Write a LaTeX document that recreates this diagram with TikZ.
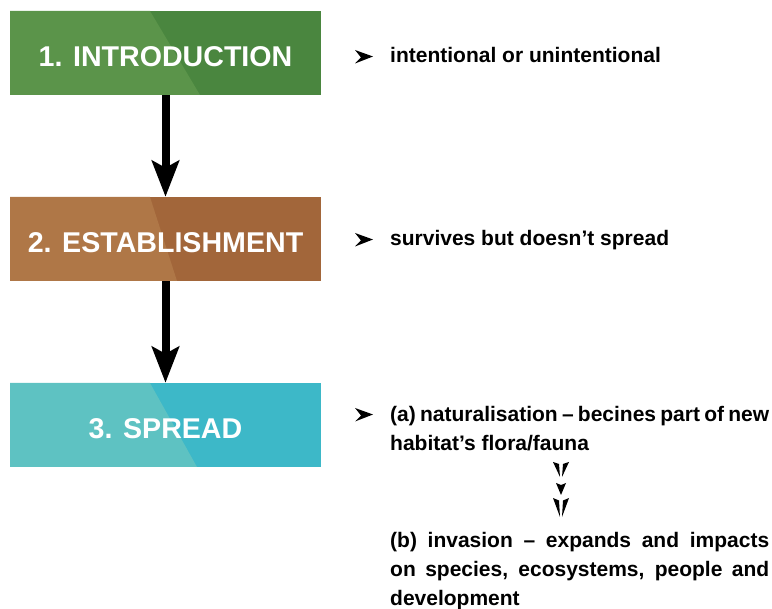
\documentclass[tikz,border=0pt]{standalone}
\usepackage{fontspec}
\setmainfont{Liberation Sans}
\usetikzlibrary{arrows.meta}
\definecolor{gdark}{HTML}{4A863F}
\definecolor{glight}{HTML}{5B944A}
\definecolor{bdark}{HTML}{A2663A}
\definecolor{blight}{HTML}{AF7747}
\definecolor{tdark}{HTML}{3DB8C8}
\definecolor{tlight}{HTML}{5EC2C2}
\tikzset{
  stagebox/.style n args={4}{draw=none, fill=#1, minimum width=311pt, minimum height=84pt,
    inner sep=0pt, text=white, font=\fontsize{28.6}{30}\selectfont\bfseries,
    text height=28pt, text depth=0pt,
    path picture={\fill[#2] (path picture bounding box.north west)
       -- ([xshift=#3]path picture bounding box.north west)
       -- ([xshift=#4]path picture bounding box.south west)
       -- (path picture bounding box.south west) -- cycle;}},
  bigarrow/.style={line width=8pt, -{Stealth[length=36pt,width=27pt,inset=7pt]}},
  sidetext/.style={anchor=base west, inner sep=0pt, font=\fontsize{21}{29}\selectfont\bfseries},
  bulletmark/.style={fill=black}
}
\begin{document}
\begin{tikzpicture}[x=1pt,y=-1pt]
\useasboundingbox (0,0) rectangle (772,609);
\node[stagebox={gdark}{glight}{140pt}{190pt}] (box1) at (165.5,53) {1. INTRODUCTION};
\node[stagebox={bdark}{blight}{140pt}{167pt}] (box2) at (165.5,239) {2. ESTABLISHMENT};
\node[stagebox={tdark}{tlight}{140pt}{187pt}] (box3) at (165.5,425) {3. SPREAD};
\draw[bigarrow] (box1.south) -- (box2.north);
\draw[bigarrow] (box2.south) -- (box3.north);
% bullets
\fill[bulletmark] (355,50) -- (373,56.5) -- (355,63.5) -- (361,57.5) -- cycle;
\fill[bulletmark] (355,233) -- (373,239.5) -- (355,246.5) -- (361,240.5) -- cycle;
\fill[bulletmark] (355,408) -- (373,414.5) -- (355,421.5) -- (361,415.5) -- cycle;
% texts
\node[sidetext] (t1) at (390,63) {intentional or unintentional};
\node[sidetext] (t2) at (390,246) {survives but doesn’t spread};
\node[sidetext] (t3a) at (390,422) {\makebox[379pt][s]{(a) naturalisation – becines part of new}};
\node[sidetext] (t3b) at (390,451) {habitat’s flora/fauna};
\node[sidetext] (t4a) at (390,548) {\makebox[379pt][s]{(b) invasion – expands and impacts}};
\node[sidetext] (t4b) at (390,577) {\makebox[379pt][s]{on species, ecosystems, people and}};
\node[sidetext] (t4c) at (390,606) {development};
% small arrow
\fill (553,462) -- (559,464) -- (560,477) .. controls (557,470) .. cycle;
\fill (569,462) -- (563,464) -- (562,477) .. controls (565,470) .. cycle;
\fill (556,483) -- (561,485) -- (566,483) -- (561,495) -- cycle;
\fill (553,498) -- (559,500.5) -- (560,517) .. controls (557,508) .. cycle;
\fill (569,498) -- (563,500.5) -- (562,517) .. controls (565,508) .. cycle;
\end{tikzpicture}
\end{document}
